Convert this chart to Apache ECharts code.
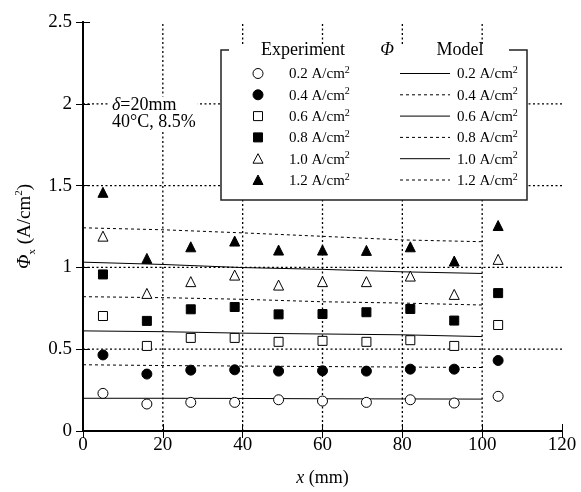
<!DOCTYPE html>
<html>
<head>
<meta charset="utf-8">
<script src="https://cdn.jsdelivr.net/npm/echarts@6/dist/echarts.min.js"></script>
<style>
html, body { margin: 0; padding: 0; background: #fff; }
#main { width: 581px; height: 492px; }
</style>
</head>
<body>
<div id="main"></div>
<script>
// data
var xExp = [5, 16, 27, 38, 49, 60, 71, 82, 93, 104];
var exp02 = [0.230, 0.165, 0.175, 0.175, 0.191, 0.183, 0.175, 0.191, 0.171, 0.212];
var exp04 = [0.465, 0.348, 0.372, 0.374, 0.366, 0.368, 0.366, 0.378, 0.378, 0.431];
var exp06 = [0.703, 0.520, 0.569, 0.569, 0.545, 0.551, 0.545, 0.555, 0.520, 0.648];
var exp08 = [0.957, 0.673, 0.744, 0.758, 0.713, 0.715, 0.726, 0.746, 0.675, 0.843];
var exp10 = [1.191, 0.841, 0.913, 0.953, 0.892, 0.913, 0.913, 0.947, 0.835, 1.049];
var exp12 = [1.459, 1.055, 1.126, 1.161, 1.106, 1.106, 1.104, 1.126, 1.039, 1.256];

var xModel = [0, 20, 40, 60, 80, 100];
var mod02 = [0.200, 0.200, 0.199, 0.197, 0.196, 0.195];
var mod04 = [0.405, 0.400, 0.397, 0.394, 0.391, 0.388];
var mod06 = [0.612, 0.607, 0.598, 0.593, 0.588, 0.577];
var mod08 = [0.821, 0.815, 0.805, 0.790, 0.782, 0.770];
var mod10 = [1.032, 1.018, 0.999, 0.988, 0.973, 0.963];
var mod12 = [1.242, 1.230, 1.211, 1.190, 1.168, 1.157];

var densities = ['0.2', '0.4', '0.6', '0.8', '1.0', '1.2'];
var xTicks = [0, 20, 40, 60, 80, 100, 120];
var yTicks = [0, 0.5, 1, 1.5, 2, 2.5];

var FONT = '"Liberation Serif", "Times New Roman", serif';

// marker look per current density
var marks = [
  { symbol: 'circle', fill: '#fff' },
  { symbol: 'circle', fill: '#000' },
  { symbol: 'rect', fill: '#fff' },
  { symbol: 'rect', fill: '#000' },
  { symbol: 'triangle', fill: '#fff' },
  { symbol: 'triangle', fill: '#000' }
];
var expSets = [exp02, exp04, exp06, exp08, exp10, exp12];
var modSets = [mod02, mod04, mod06, mod08, mod10, mod12];

function pairs(xs, ys) {
  return xs.map(function (x, i) { return [x, ys[i]]; });
}

var xMin = xTicks[0], xMax = xTicks[xTicks.length - 1];
var yMin = yTicks[0], yMax = yTicks[yTicks.length - 1];

var series = [];

// dotted grid at the inner ticks, drawn as plain line series
function gridSeries(data) {
  return {
    type: 'line', data: data, showSymbol: false, silent: true, z: 1,
    lineStyle: { color: '#000', width: 1.3, type: [2, 2.5], opacity: 1 },
    emphasis: { disabled: true }
  };
}
xTicks.slice(1, -1).forEach(function (v) { series.push(gridSeries([[v, yMin], [v, yMax]])); });
yTicks.slice(1, -1).forEach(function (v) { series.push(gridSeries([[xMin, v], [xMax, v]])); });

modSets.forEach(function (ys, k) {
  series.push({
    name: 'Model ' + densities[k],
    type: 'line',
    data: pairs(xModel, ys),
    showSymbol: false,
    silent: true,
    lineStyle: { color: '#000', width: 1, type: k % 2 == 0 ? 'solid' : [3, 3] },
    z: 2
  });
});
expSets.forEach(function (ys, k) {
  series.push({
    name: 'Experiment ' + densities[k],
    type: 'scatter',
    data: pairs(xExp, ys),
    symbol: marks[k].symbol,
    symbolSize: marks[k].symbol == 'rect' ? 9 : 10,
    itemStyle: { color: marks[k].fill, borderColor: '#000', borderWidth: 1, opacity: 1 },
    z: 3
  });
});

// legend drawn by hand (two columns, boxed)
var graphic = [];
var boxL = 221, boxT = 50, boxR = 527, boxB = 200;
graphic.push({ type: 'rect', z: 100, shape: { x: boxL, y: boxT, width: boxR - boxL, height: boxB - boxT },
  style: { fill: '#fff', stroke: '#222', lineWidth: 1.5 } });
graphic.push({ type: 'rect', z: 101, shape: { x: 229, y: boxT - 4, width: 280, height: 8 },
  style: { fill: '#fff' } });
graphic.push({ type: 'text', z: 102, style: { text: 'Experiment', x: 303, y: boxT, align: 'center', verticalAlign: 'middle',
  font: '18px ' + FONT, fill: '#000' } });
graphic.push({ type: 'text', z: 102, style: { text: 'Φ', x: 387, y: boxT, align: 'center', verticalAlign: 'middle',
  font: 'italic 18px ' + FONT, fill: '#000' } });
graphic.push({ type: 'text', z: 102, style: { text: 'Model', x: 460, y: boxT, align: 'center', verticalAlign: 'middle',
  font: '18px ' + FONT, fill: '#000' } });

var richUnit = {
  n: { fontSize: 15, fontFamily: FONT, lineHeight: 18, fill: '#000' },
  s: { fontSize: 10, fontFamily: FONT, lineHeight: 18, verticalAlign: 'top', fill: '#000' }
};
densities.forEach(function (d, k) {
  var y = 73.5 + k * 21.3;
  var cx = 258, r = 5;
  var m = marks[k];
  var st = { fill: m.fill, stroke: '#000', lineWidth: 1 };
  if (m.symbol == 'circle') {
    graphic.push({ type: 'circle', z: 102, shape: { cx: cx, cy: y, r: r }, style: st });
  } else if (m.symbol == 'rect') {
    graphic.push({ type: 'rect', z: 102, shape: { x: cx - 4.5, y: y - 4.5, width: 9, height: 9 }, style: st });
  } else {
    graphic.push({ type: 'polygon', z: 102, shape: { points: [[cx, y - 5], [cx + 5, y + 4.5], [cx - 5, y + 4.5]] }, style: st });
  }
  var label = '{n|' + d + ' A/cm}{s|2}';
  graphic.push({ type: 'text', z: 102, style: { text: label, x: 289, y: y + 1, align: 'left', verticalAlign: 'middle', rich: richUnit } });
  graphic.push({ type: 'line', z: 102, shape: { x1: 400, y1: y, x2: 450, y2: y },
    style: { stroke: '#000', lineWidth: 1, lineDash: k % 2 == 0 ? null : [3, 3] } });
  graphic.push({ type: 'text', z: 102, style: { text: label, x: 457, y: y + 1, align: 'left', verticalAlign: 'middle', rich: richUnit } });
});

// condition note
graphic.push({ type: 'text', z: 100, style: {
  text: '{i|δ}{n|=20mm}\n{n|40°C, 8.5%}', x: 110, y: 113.5, align: 'left', verticalAlign: 'middle',
  backgroundColor: '#fff', padding: [0, 2],
  rich: {
    i: { fontSize: 18, fontFamily: FONT, fontStyle: 'italic', lineHeight: 17, fill: '#000' },
    n: { fontSize: 18, fontFamily: FONT, lineHeight: 17, fill: '#000' }
  } } });

function axisLine() { return { show: true, lineStyle: { color: '#000', width: 2 } }; }
function tick() { return { show: true, inside: true, length: 7, lineStyle: { color: '#000', width: 1 } }; }

var myChart = echarts.init(document.getElementById('main'));
var option = {
  animation: false,
  grid: { left: 83, right: 19, top: 22, bottom: 60 },
  xAxis: [{
    type: 'value', min: xMin, max: xMax, interval: 20,
    axisLine: axisLine(), axisTick: tick(),
    axisLabel: { color: '#000', fontSize: 19, fontFamily: FONT, margin: 5 },
    splitLine: { show: false },
    name: '{i|x}{n| (mm)}', nameLocation: 'middle', nameGap: 38,
    nameTextStyle: { rich: {
      i: { fontSize: 18, fontFamily: FONT, fontStyle: 'italic', color: '#000' },
      n: { fontSize: 18, fontFamily: FONT, color: '#000' } } }
  }, {
    type: 'value', position: 'top', min: xMin, max: xMax, interval: 20,
    axisLine: axisLine(), axisTick: tick(), axisLabel: { show: false }, splitLine: { show: false }
  }],
  yAxis: [{
    type: 'value', min: yMin, max: yMax, interval: 0.5,
    axisLine: axisLine(), axisTick: tick(),
    axisLabel: { color: '#000', fontSize: 19, fontFamily: FONT, margin: 11 },
    splitLine: { show: false },
    name: '{i|Φ}{b|x}{n| (A/cm}{s|2}{n|)}', nameLocation: 'middle', nameGap: 38, nameRotate: 90,
    nameTextStyle: { rich: {
      i: { fontSize: 19, fontFamily: FONT, fontStyle: 'italic', color: '#000', lineHeight: 24 },
      b: { fontSize: 11, fontFamily: FONT, color: '#000', lineHeight: 24, verticalAlign: 'bottom' },
      n: { fontSize: 19, fontFamily: FONT, color: '#000', lineHeight: 24 },
      s: { fontSize: 11, fontFamily: FONT, color: '#000', lineHeight: 24, verticalAlign: 'top' } } }
  }, {
    type: 'value', position: 'right', min: yMin, max: yMax, interval: 0.5,
    axisLine: axisLine(), axisTick: tick(), axisLabel: { show: false }, splitLine: { show: false }
  }],
  graphic: graphic,
  series: series
};
myChart.setOption(option);
</script>
</body>
</html>
